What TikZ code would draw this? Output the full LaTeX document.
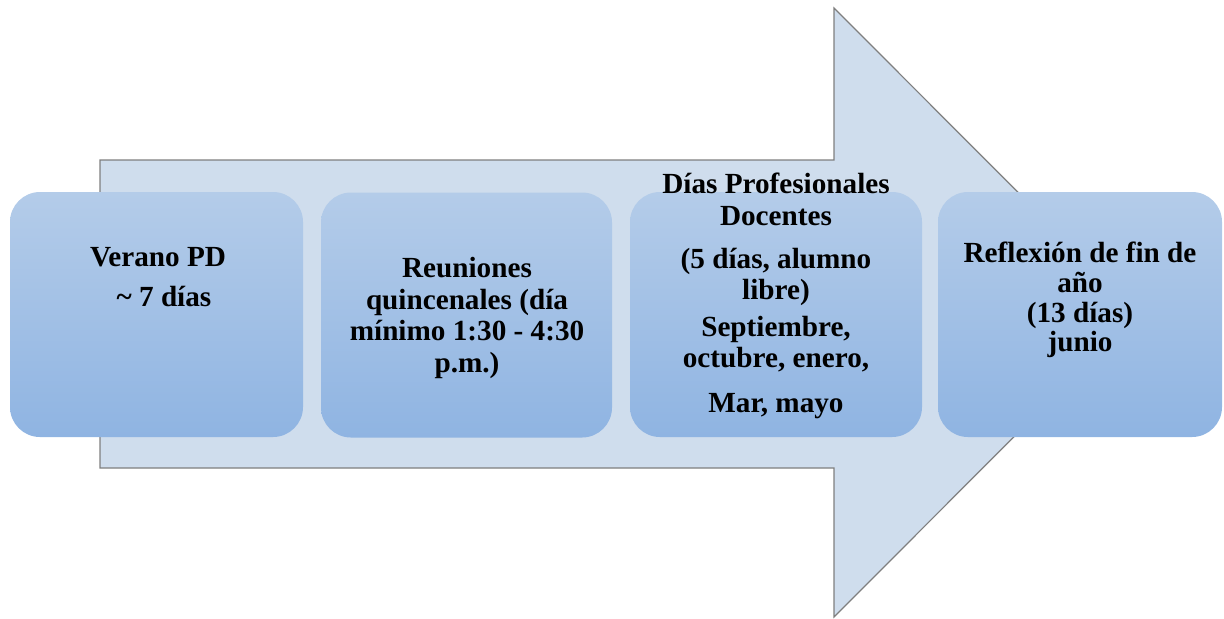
\documentclass[tikz,border=0pt]{standalone}
\usepackage{fontspec}
\setmainfont{Liberation Serif}
\definecolor{arrowfill}{HTML}{CFDDED}
\definecolor{arrowline}{HTML}{7F7F7F}
\definecolor{boxtop}{HTML}{B4CCE9}
\definecolor{boxbot}{HTML}{8FB4E2}
\begin{document}
\begin{tikzpicture}[x=0.5pt,y=-0.5pt,
  arrowshape/.style={fill=arrowfill, draw=arrowline, line width=0.6pt, line join=miter},
  stagebox/.style={rectangle, rounded corners=15pt, top color=boxtop, bottom color=boxbot,
    draw=none, minimum height=122.5pt, inner sep=0pt},
  stagetext/.style={align=center, inner sep=0pt, text=black,
    font=\fontsize{14.6}{15.8}\selectfont\bfseries}]
\useasboundingbox (0,0) rectangle (1224,618);
% big arrow
\draw[arrowshape] (100,160) -- (834,160) -- (834,8) -- (1138,312.5) -- (834,617)
  -- (834,468) -- (100,468) -- cycle;
% boxes
\node[stagebox, minimum width=146.5pt] (b1) at (156.5,314.5) {};
\node[stagebox, minimum width=145.5pt] (b2) at (466.5,315) {};
\node[stagebox, minimum width=146pt] (b3) at (776,314.5) {};
\node[stagebox, minimum width=142pt] (b4) at (1080,314.5) {};
% texts
\node[stagetext] (t1) at (158,277) {Verano PD\\[4.5pt]\hspace*{6pt}\textasciitilde{} 7 días};
\node[stagetext] (t2) at (467,318) {Reuniones\\quincenales (día\\mínimo 1:30 - 4:30\\p.m.)};
\node[stagetext] (t3) at (776,296) {Días Profesionales\\Docentes\\[5.5pt](5 días, alumno\\libre)\\[2.5pt]Septiembre,\\octubre, enero,\\[6.5pt]Mar, mayo};
\node[stagetext, font=\fontsize{14.6}{14.9}\selectfont\bfseries] (t4) at (1080,300) {Reflexión de fin de\\año\\(13 días)\\junio};
\end{tikzpicture}
\end{document}
